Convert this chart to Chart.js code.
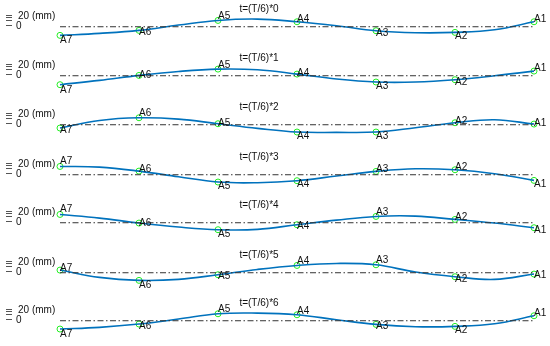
<!DOCTYPE html>
<html>
<head>
<meta charset="utf-8">
<script src="https://cdn.jsdelivr.net/npm/chart.js@4/dist/chart.umd.min.js"></script>
<style>
  html,body{margin:0;padding:0;background:#fff;}
  #wrap{position:relative;width:550px;height:346px;overflow:hidden;}
  #wrap canvas{position:absolute;left:0;}
</style>
</head>
<body>
<div id="wrap"></div>
<script>
// node labels, left to right, and their positions along the body
const nodes=['A7','A6','A5','A4','A3','A2','A1'];
const nodePos=[7,6,5,4,3,2,1];
const midPos=[6.5,5.5,4.5,3.5,2.5,1.5];
const frames=['t=(T/6)*0','t=(T/6)*1','t=(T/6)*2','t=(T/6)*3','t=(T/6)*4','t=(T/6)*5','t=(T/6)*6'];

// lateral displacement (mm) at the nodes, one row per frame
const nodeMm=[
  [-26,-11, 19, 15,-12,-17, 15],
  [-27,  1, 20,  5,-19,-12, 14],
  [-10, 21,  3,-22,-22,  6,  2],
  [ 25, 11,-22,-18, 10, 15,-17],
  [ 25, -1,-21, -6, 19, 10,-15],
  [  8,-23, -6, 22, 24,-12, -4],
  [-25,-10, 21, 18,-11,-17, 15]
];
// displacement (mm) of the curve halfway between nodes
const midMm=[
  [-20,  5, 23,  3,-18, -9],
  [-14, 13, 18,-10,-19,  0],
  [ 13, 17,-11,-23, -9, 15],
  [ 23, -6,-24, -4, 18,  3],
  [ 14,-13,-20,  8, 20, -1],
  [-14,-20, 10, 28,  2,-20],
  [-20,  5, 23,  3,-18, -9]
];

const FONT='"Liberation Sans", Arial, sans-serif';
const panelTop=[0,49,97.5,147.5,196,245.5,294];
const W=550,H=49;

// text labels, title and the little mm ruler
const decor={
  id:'decor',
  afterDatasetsDraw(chart){
    const c=chart.ctx, ys=chart.scales.y, k=chart.options.plugins.decor.k;
    const z=ys.getPixelForValue(0);
    c.save();
    c.strokeStyle='#555'; c.lineWidth=1;
    [12,9.7,7,1.7].forEach(d=>{
      c.beginPath(); c.moveTo(6,Math.round(z-d)+.5); c.lineTo(12,Math.round(z-d)+.5); c.stroke();
    });
    c.fillStyle='#111'; c.font='10px '+FONT; c.textBaseline='middle'; c.textAlign='left';
    c.fillText('20 (mm)',18,z-10);
    c.fillText('0',16,z);
    c.textAlign='center';
    c.fillText(frames[k],259,z-17.5);
    c.textAlign='left';
    const meta=chart.getDatasetMeta(2);
    meta.data.forEach((p,i)=>{
      c.fillText(nodes[i],p.x,ys.getPixelForValue(nodeMm[k][i]*1.6));
    });
    c.restore();
  }
};

frames.forEach((f,k)=>{
  const cv=document.createElement('canvas');
  cv.width=W; cv.height=H; cv.style.top=panelTop[k]+'px';
  document.getElementById('wrap').appendChild(cv);

  const curve=nodePos.map((x,i)=>({x,y:nodeMm[k][i]}))
    .concat(midPos.map((x,i)=>({x,y:midMm[k][i]})))
    .sort((a,b)=>b.x-a.x);

  new Chart(cv,{
    type:'line',
    data:{datasets:[
      {data:[{x:7,y:0},{x:1,y:0}],borderColor:'#333',borderWidth:1,
       borderDash:[6,2.5,1.5,2.5],pointRadius:0,clip:false},
      {data:curve,borderColor:'#0072BD',borderWidth:1.6,tension:0.4,
       pointRadius:0,clip:false},
      {data:nodePos.map((x,i)=>({x,y:nodeMm[k][i]})),showLine:false,
       pointRadius:3,pointBorderWidth:1,pointBorderColor:'#22ee22',
       pointBackgroundColor:'rgba(0,0,0,0)',clip:false}
    ]},
    options:{
      responsive:false,animation:false,devicePixelRatio:1,
      layout:{padding:{left:60,right:16,top:0,bottom:0}},
      plugins:{legend:{display:false},tooltip:{enabled:false},decor:{k}},
      scales:{
        x:{type:'linear',min:1,max:7,reverse:true,display:false},
        y:{min:-52,max:65.5,display:false}
      }
    },
    plugins:[decor]
  });
});
</script>
</body>
</html>
